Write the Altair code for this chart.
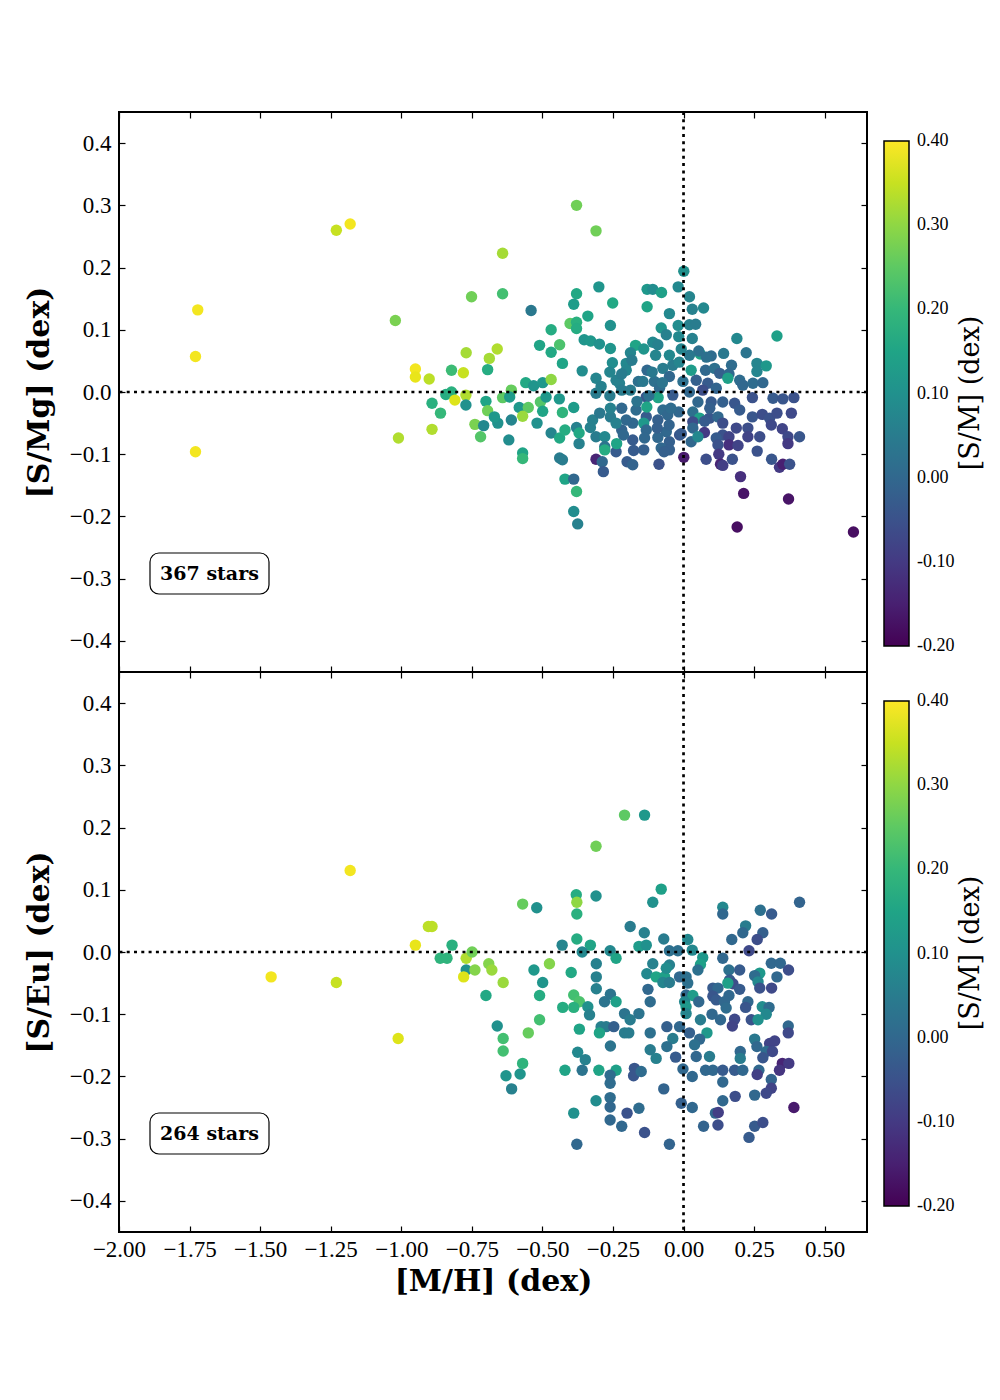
import altair as alt
import pandas as pd

# ---------------- panel 1: [S/Mg] vs [M/H], colour [S/M] ----------------
X_A = [-1.721, -1.729, -1.729, -1.230, -1.181, -1.021, -1.010, -0.751, -0.950, -0.950,
       -0.901, -0.891, -0.891, -0.861, -0.842, -0.822, -0.822, -0.810, -0.771, -0.780,
       -0.770, -0.771, -0.739, -0.719, -0.708, -0.700, -0.694, -0.694, -0.688]
Y_A = [0.132, 0.057, -0.096, 0.260, 0.270, 0.115, -0.074, 0.153, 0.037, 0.024,
       0.021, -0.060, -0.018, -0.034, -0.004, 0.000, 0.035, -0.013, -0.005, 0.031,
       0.063, -0.021, -0.052, -0.072, -0.054, -0.015, -0.030, 0.036, 0.054]
C_A = [0.39, 0.39, 0.39, 0.35, 0.39, 0.28, 0.33, 0.27, 0.39, 0.38,
       0.34, 0.33, 0.18, 0.20, 0.17, 0.18, 0.21, 0.37, 0.33, 0.35,
       0.32, 0.10, 0.28, 0.24, 0.08, 0.15, 0.27, 0.17, 0.32]

X_B = [-0.379, -0.310, -0.641, -0.641, -0.540, -0.300, -0.379, -0.389, -0.251, -0.129,
       -0.129, -0.402, -0.379, -0.379, -0.339, -0.259, -0.469, -0.510, -0.439, -0.469,
       -0.429, -0.352, -0.329, -0.298, -0.259, -0.170, -0.141, -0.188, -0.252, -0.203,
       -0.359, -0.660, -0.559, -0.531, -0.499, -0.469, -0.610, -0.641, -0.616, -0.658,
       -0.670, -0.610, -0.619, -0.582, -0.550, -0.570, -0.507, -0.499, -0.487, -0.519,
       -0.570, -0.570, -0.440, -0.429, -0.389, -0.469, -0.439, -0.420, -0.379, -0.370,
       -0.370, -0.439, -0.429, -0.420, -0.389, -0.379, -0.389, -0.375, -0.330, -0.310,
       -0.279, -0.279, -0.279, -0.310, -0.288, -0.284, -0.239, -0.200, -0.180, -0.180,
       -0.141, -0.310, -0.310, -0.292, -0.259, -0.259, -0.219, -0.219, -0.239, -0.227,
       -0.219, -0.188, -0.203, -0.160, -0.168, -0.180, -0.132, -0.132, -0.129, -0.141,
       -0.203, -0.239, -0.322]
Y_B = [0.300, 0.259, 0.223, 0.158, 0.131, 0.169, 0.158, 0.141, 0.143, 0.165,
       0.137, 0.110, 0.112, 0.102, 0.122, 0.107, 0.100, 0.075, 0.076, 0.064,
       0.046, 0.084, 0.082, 0.077, 0.070, 0.075, 0.069, 0.063, 0.047, 0.046,
       0.034, 0.069, 0.015, 0.010, 0.015, 0.020, 0.003, -0.009, -0.008, -0.050,
       -0.040, -0.045, -0.077, -0.025, -0.025, -0.039, -0.016, -0.031, -0.008, -0.050,
       -0.098, -0.107, -0.011, -0.033, -0.025, -0.066, -0.074, -0.061, -0.057, -0.066,
       -0.083, -0.106, -0.109, -0.140, -0.140, -0.160, -0.192, -0.212, -0.057, -0.072,
       -0.072, -0.088, -0.093, -0.108, -0.112, -0.128, -0.096, -0.112, -0.117, -0.077,
       -0.093, 0.022, -0.002, 0.009, -0.040, -0.026, -0.026, -0.061, 0.019, 0.014,
       0.003, 0.003, 0.035, 0.017, -0.029, -0.050, -0.008, -0.040, 0.035, -0.050,
       -0.045, -0.050, -0.045]
C_B = [0.27, 0.27, 0.32, 0.22, 0.04, 0.11, 0.16, 0.13, 0.16, 0.12,
       0.15, 0.25, 0.18, 0.17, 0.15, 0.10, 0.17, 0.15, 0.23, 0.16,
       0.15, 0.11, 0.12, 0.10, 0.11, 0.15, 0.11, 0.07, 0.09, 0.08,
       0.09, 0.33, 0.16, 0.11, 0.12, 0.30, 0.26, 0.25, 0.13, 0.10,
       0.12, 0.07, 0.09, 0.12, 0.25, 0.31, 0.24, 0.15, 0.12, 0.10,
       0.15, 0.20, 0.12, 0.19, 0.13, 0.07, 0.16, 0.17, 0.06, 0.16,
       0.06, 0.05, 0.05, 0.15, 0.00, 0.20, 0.09, 0.06, 0.06, 0.05,
       0.08, 0.03, 0.17, -0.14, 0.00, -0.03, -0.03, -0.03, -0.01, -0.03,
       -0.02, 0.07, 0.05, 0.06, 0.05, 0.06, 0.00, -0.01, 0.06, 0.06,
       0.05, 0.05, 0.07, 0.02, 0.01, 0.00, -0.04, -0.03, 0.00, 0.12,
       0.00, 0.06, 0.06]

X_C = [0.001, -0.109, -0.078, -0.019, 0.021, 0.031, 0.071, -0.050, -0.079, -0.019,
       0.021, 0.043, -0.061, -0.017, 0.031, 0.189, 0.331, -0.109, -0.091, -0.099,
       -0.050, -0.008, 0.059, 0.098, 0.142, 0.222, 0.054, 0.021, 0.170, 0.260,
       0.293, 0.260, -0.073, -0.038, 0.027, 0.078, 0.110, 0.128, 0.161, 0.157,
       0.199, 0.210, 0.246, 0.281, -0.144, -0.103, -0.050, -0.002, 0.045, 0.086,
       0.116, -0.085, -0.038, 0.021, 0.068, -0.090, -0.130, -0.073, -0.017, 0.051,
       0.098, 0.139, 0.181, 0.199, 0.244, 0.317, 0.352, 0.391, 0.033, 0.057,
       0.092, 0.122, 0.139, 0.244, 0.279, 0.305, 0.331, 0.382, -0.091, -0.056,
       0.033, 0.033, 0.187, 0.228, 0.311, 0.350, -0.132, -0.061, -0.014, 0.074,
       0.139, 0.161, 0.228, 0.270, 0.370, 0.411, -0.138, -0.091, -0.050, 0.027,
       0.051, 0.116, 0.161, 0.122, 0.193, -0.079, -0.050, -0.008, 0.261, 0.370,
       -0.087, 0.001, 0.080, 0.125, 0.131, 0.139, 0.173, 0.312, 0.340, 0.352,
       0.376, 0.202, 0.213, 0.372, 0.190, 0.602]
Y_C = [0.194, 0.165, 0.160, 0.169, 0.153, 0.133, 0.135, 0.126, 0.103, 0.107,
       0.108, 0.109, 0.092, 0.089, 0.086, 0.086, 0.090, 0.080, 0.076, 0.059,
       0.059, 0.069, 0.061, 0.058, 0.062, 0.063, 0.066, 0.059, 0.043, 0.046,
       0.042, 0.033, 0.038, 0.043, 0.035, 0.035, 0.038, 0.030, 0.029, 0.022,
       0.019, 0.011, 0.014, 0.015, 0.017, 0.017, 0.025, 0.017, 0.019, 0.014,
       0.006, 0.006, -0.005, 0.000, 0.003, -0.009, -0.024, -0.029, -0.032, -0.016,
       -0.016, -0.016, -0.018, -0.029, -0.009, -0.010, -0.011, -0.009, -0.032, -0.042,
       -0.042, -0.040, -0.050, -0.040, -0.036, -0.042, -0.034, -0.034, -0.045, -0.037,
       -0.048, -0.058, -0.058, -0.058, -0.053, -0.059, -0.061, -0.064, -0.069, -0.065,
       -0.069, -0.072, -0.072, -0.072, -0.072, -0.072, -0.074, -0.073, -0.080, -0.080,
       -0.072, -0.074, -0.085, -0.085, -0.086, -0.090, -0.093, -0.067, -0.095, -0.083,
       -0.116, -0.105, -0.108, -0.100, -0.116, -0.118, -0.108, -0.108, -0.121, -0.116,
       -0.116, -0.136, -0.163, -0.172, -0.217, -0.225]
C_C = [0.10, 0.09, 0.14, 0.08, 0.07, 0.06, 0.08, 0.08, 0.11, 0.09,
       0.06, 0.05, 0.06, 0.08, 0.06, 0.08, 0.14, 0.08, 0.06, 0.07,
       0.08, 0.07, 0.15, 0.01, 0.04, 0.03, 0.02, 0.04, 0.01, 0.07,
       0.12, 0.07, 0.05, 0.05, 0.13, 0.00, 0.02, -0.02, 0.00, 0.14,
       0.01, 0.00, 0.01, 0.00, 0.04, 0.02, 0.00, 0.02, -0.02, -0.03,
       -0.01, 0.01, -0.03, 0.00, -0.06, 0.15, 0.15, 0.01, 0.00, 0.00,
       -0.03, -0.02, -0.04, -0.03, -0.05, -0.03, -0.04, -0.05, 0.02, 0.14,
       -0.04, 0.00, -0.06, -0.04, -0.06, -0.05, -0.06, -0.07, -0.02, 0.00,
       -0.06, 0.00, -0.07, -0.06, -0.07, -0.08, 0.00, 0.00, -0.04, -0.10,
       -0.05, -0.08, -0.08, -0.06, -0.07, -0.04, 0.00, 0.00, -0.02, 0.00,
       0.08, -0.03, -0.12, -0.05, -0.08, 0.00, -0.02, -0.03, -0.05, -0.10,
       -0.05, -0.16, -0.06, -0.10, -0.14, -0.09, -0.05, -0.04, -0.10, -0.15,
       -0.05, -0.12, -0.17, -0.17, -0.18, -0.18]

X_G = [-0.183, -0.015, 0.081, -0.261, -0.219, -0.111, -0.075, -0.123, -0.165, -0.261,
       -0.297, -0.045, 0.093, -0.093, -0.051, 0.075, -0.237, -0.213, -0.177, -0.069]
Y_G = [0.051, 0.048, 0.056, 0.032, 0.029, 0.032, 0.015, -0.006, -0.015, -0.006,
       -0.034, -0.026, -0.026, -0.058, -0.053, -0.047, -0.083, -0.069, -0.094, -0.096]
C_G = [0.05, 0.07, 0.02, 0.07, 0.05, 0.04, 0.03, 0.02, 0.03, 0.05,
       0.04, 0.01, -0.02, -0.02, -0.01, -0.03, 0.15, 0.00, -0.03, -0.02]

# ---------------- panel 2: [S/Eu] vs [M/H], colour [S/M] ----------------
X_D = [-1.181, -1.461, -1.230, -1.011, -0.950, -0.904, -0.891, -0.820, -0.862, -0.838,
       -0.770, -0.749, -0.770, -0.779, -0.739, -0.690, -0.679, -0.639, -0.700, -0.660,
       -0.639, -0.639, -0.629, -0.609, -0.579, -0.570, -0.550, -0.510, -0.510, -0.499,
       -0.530, -0.570, -0.520, -0.475]
Y_D = [0.131, -0.040, -0.049, -0.139, 0.011, 0.041, 0.041, 0.011, -0.010, -0.010,
       -0.010, 0.000, -0.029, -0.040, -0.029, -0.019, -0.029, -0.049, -0.070, -0.119,
       -0.139, -0.159, -0.199, -0.220, -0.196, -0.179, -0.130, -0.109, -0.070, -0.049,
       -0.029, 0.077, 0.071, -0.019]
C_D = [0.39, 0.39, 0.35, 0.37, 0.38, 0.34, 0.34, 0.18, 0.19, 0.19,
       0.33, 0.27, 0.10, 0.37, 0.29, 0.29, 0.31, 0.31, 0.16, 0.10,
       0.22, 0.22, 0.11, 0.06, 0.11, 0.19, 0.26, 0.22, 0.17, 0.11,
       0.12, 0.26, 0.10, 0.29]

X_E = [-0.209, -0.138, -0.310, -0.380, -0.378, -0.378, -0.310, -0.079, -0.109, -0.189,
       -0.139, -0.070, -0.378, -0.330, -0.430, -0.359, -0.260, -0.239, -0.158, -0.132,
       -0.050, -0.020, 0.015, -0.398, -0.309, -0.309, -0.309, -0.109, -0.130, -0.097,
       -0.067, -0.050, -0.073, -0.050, -0.014, -0.126, -0.118, -0.389, -0.369, -0.428,
       -0.389, -0.339, -0.333, -0.280, -0.259, -0.239, -0.209, -0.189, -0.158, -0.369,
       -0.292, -0.274, -0.247, -0.209, -0.194, -0.298, -0.259, -0.118, -0.059, -0.038,
       -0.014, -0.118, -0.097, -0.059, -0.028, -0.375, -0.348, -0.420, -0.359, -0.300,
       -0.239, -0.260, -0.260, -0.174, -0.177, -0.150, -0.002, -0.070, -0.310, -0.260,
       -0.260, -0.200, -0.158, -0.389, -0.260, -0.219, -0.138, -0.378, -0.050, -0.008]
Y_E = [0.220, 0.220, 0.170, 0.092, 0.080, 0.061, 0.090, 0.101, 0.080, 0.041,
       0.031, 0.021, 0.021, 0.011, 0.011, 0.000, 0.002, -0.010, 0.009, 0.011,
       0.002, 0.002, 0.020, -0.033, -0.019, -0.040, -0.059, -0.019, -0.035, -0.040,
       -0.040, -0.021, -0.049, -0.049, -0.040, -0.060, -0.080, -0.069, -0.080, -0.089,
       -0.089, -0.088, -0.101, -0.080, -0.068, -0.080, -0.099, -0.109, -0.099, -0.124,
       -0.120, -0.120, -0.120, -0.130, -0.130, -0.130, -0.151, -0.130, -0.120, -0.139,
       -0.120, -0.157, -0.171, -0.152, -0.169, -0.161, -0.173, -0.190, -0.190, -0.190,
       -0.190, -0.198, -0.211, -0.187, -0.199, -0.192, -0.188, -0.220, -0.239, -0.234,
       -0.249, -0.259, -0.251, -0.259, -0.270, -0.280, -0.290, -0.309, -0.309, -0.243]
C_E = [0.25, 0.12, 0.27, 0.17, 0.30, 0.18, 0.10, 0.14, 0.10, 0.05,
       0.06, 0.05, 0.17, 0.15, 0.07, 0.08, 0.08, 0.15, 0.13, 0.10,
       0.02, 0.02, 0.08, 0.16, 0.06, 0.06, 0.06, 0.06, 0.08, 0.15,
       0.14, 0.06, 0.07, 0.05, 0.00, 0.00, 0.01, 0.22, 0.23, 0.17,
       0.18, 0.10, 0.06, 0.03, 0.03, 0.14, 0.03, 0.05, 0.03, 0.15,
       0.06, 0.05, -0.02, 0.05, 0.05, 0.15, 0.03, 0.02, -0.02, 0.05,
       0.00, 0.05, 0.06, 0.02, -0.03, 0.08, 0.06, 0.15, 0.03, 0.15,
       0.14, 0.01, 0.01, -0.04, -0.04, 0.01, 0.00, -0.01, 0.09, 0.01,
       0.00, -0.05, 0.01, 0.10, 0.00, 0.00, -0.05, 0.00, -0.01, -0.02]

X_F = [0.411, 0.139, 0.139, 0.272, 0.312, 0.220, 0.210, 0.281, 0.261, 0.171,
       0.031, 0.232, 0.068, 0.060, 0.139, -0.061, 0.051, 0.311, 0.343, 0.372,
       0.161, 0.199, 0.270, 0.252, 0.331, 0.009, 0.163, 0.175, 0.157, 0.264,
       0.015, 0.199, 0.270, 0.312, 0.104, 0.122, 0.009, 0.033, 0.161, 0.104,
       0.116, 0.145, 0.054, 0.004, 0.228, 0.009, 0.151, 0.220, 0.279, 0.303,
       0.293, 0.009, 0.101, 0.131, 0.181, 0.173, 0.240, 0.264, 0.060, 0.021,
       0.083, 0.371, 0.371, 0.057, 0.039, 0.252, 0.260, 0.305, 0.323, 0.293,
       0.281, 0.315, 0.201, 0.201, 0.350, 0.373, 0.340, 0.045, 0.092, 0.078,
       0.104, 0.139, 0.181, 0.210, 0.267, 0.261, 0.031, 0.311, 0.311, 0.293,
       0.139, 0.139, 0.183, 0.252, 0.391, 0.031, 0.113, 0.123, 0.122, 0.071,
       0.252, 0.281, 0.232]
Y_F = [0.080, 0.072, 0.061, 0.067, 0.061, 0.042, 0.031, 0.031, 0.020, 0.020,
       0.003, 0.002, -0.009, -0.020, -0.010, -0.026, -0.029, -0.018, -0.018, -0.029,
       -0.029, -0.029, -0.034, -0.038, -0.040, -0.040, -0.045, -0.051, -0.050, -0.048,
       -0.050, -0.060, -0.058, -0.058, -0.058, -0.058, -0.069, -0.070, -0.070, -0.071,
       -0.077, -0.080, -0.080, -0.080, -0.080, -0.088, -0.090, -0.089, -0.088, -0.089,
       -0.100, -0.099, -0.100, -0.109, -0.108, -0.119, -0.109, -0.109, -0.109, -0.130,
       -0.130, -0.119, -0.130, -0.140, -0.149, -0.140, -0.152, -0.147, -0.143, -0.160,
       -0.170, -0.160, -0.160, -0.171, -0.179, -0.179, -0.190, -0.168, -0.168, -0.190,
       -0.190, -0.190, -0.190, -0.190, -0.190, -0.197, -0.200, -0.205, -0.219, -0.227,
       -0.209, -0.239, -0.232, -0.230, -0.250, -0.250, -0.259, -0.258, -0.278, -0.280,
       -0.280, -0.274, -0.298]
C_F = [-0.01, 0.08, 0.00, 0.02, -0.03, 0.05, 0.00, -0.02, -0.06, 0.00,
       0.08, -0.07, 0.12, 0.14, 0.00, 0.09, 0.02, 0.00, 0.00, -0.06,
       0.02, -0.03, 0.12, 0.01, 0.00, 0.02, -0.03, -0.06, 0.14, 0.08,
       0.02, -0.03, -0.05, -0.07, -0.03, 0.00, 0.00, 0.13, 0.00, -0.04,
       -0.03, 0.00, 0.00, 0.08, 0.00, 0.12, 0.01, -0.04, 0.09, 0.01,
       0.08, 0.07, 0.00, 0.00, -0.07, -0.08, -0.05, 0.10, 0.05, -0.02,
       0.12, 0.00, -0.07, 0.00, 0.02, 0.04, 0.00, -0.08, -0.08, 0.01,
       -0.04, -0.07, 0.00, 0.05, -0.14, -0.10, -0.11, 0.00, 0.05, 0.00,
       0.00, -0.03, -0.03, 0.00, 0.00, -0.09, 0.00, -0.01, -0.08, -0.07,
       0.00, 0.00, -0.06, 0.00, -0.16, 0.00, 0.00, -0.09, -0.06, -0.01,
       -0.03, -0.06, -0.03]

# ---------------- axes / labels ----------------
X_TICKS = [-2.0, -1.75, -1.5, -1.25, -1.0, -0.75, -0.5, -0.25, 0.0, 0.25, 0.5]
Y_TICKS = [-0.4, -0.3, -0.2, -0.1, 0.0, 0.1, 0.2, 0.3, 0.4]
CBAR_TICKS = [-0.2, -0.1, 0.0, 0.1, 0.2, 0.3, 0.4]
X_DOMAIN = [-2.0, 0.65]
Y_DOMAIN = [-0.45, 0.45]
C_DOMAIN = [-0.2, 0.4]
PANEL_TITLES = ["[S/Mg] (dex)", "[S/Eu] (dex)"]
STAR_LABELS = ["367 stars", "264 stars"]
X_TITLE = "[M/H] (dex)"
CBAR_TITLE = "[S/M] (dex)"

W, H = 748, 560
TICK = 6
TICK_FONT = "Liberation Serif"
TITLE_FONT = "DejaVu Serif"

for a, b, c in [(X_A, Y_A, C_A), (X_B, Y_B, C_B), (X_C, Y_C, C_C), (X_G, Y_G, C_G),
                (X_D, Y_D, C_D), (X_E, Y_E, C_E), (X_F, Y_F, C_F)]:
    assert len(a) == len(b) == len(c), (len(a), len(b), len(c))

df_top = pd.DataFrame({"mh": X_A + X_B + X_C + X_G,
                       "val": Y_A + Y_B + Y_C + Y_G,
                       "sm": C_A + C_B + C_C + C_G})
df_bot = pd.DataFrame({"mh": X_D + X_E + X_F, "val": Y_D + Y_E + Y_F, "sm": C_D + C_E + C_F})

# colorbar tick values, end ones nudged inside so Vega centres their labels on the ends
_eps = 1e-4
CBAR_VALUES = [CBAR_TICKS[0] + _eps] + CBAR_TICKS[1:-1] + [CBAR_TICKS[-1] - _eps]


def tick_axis(**kw):
    base = dict(tickSize=TICK, offset=-TICK, domain=False, grid=False,
                tickColor="black", tickWidth=1.2)
    base.update(kw)
    return alt.Axis(**base)


def panel(df, ytitle, nstars, show_x):
    xs = alt.Scale(domain=X_DOMAIN, nice=False, zero=False)
    ys = alt.Scale(domain=Y_DOMAIN, nice=False, zero=False)
    if show_x:
        xaxis = tick_axis(orient="bottom", values=X_TICKS, format=".2f",
                          labelFont=TICK_FONT, labelFontSize=23, labelColor="black",
                          labelPadding=6, labelFlush=False, labelOverlap=False,
                          title=X_TITLE, titleFont=TITLE_FONT, titleFontSize=30,
                          titleFontWeight="bold", titleColor="black", titlePadding=5)
    else:
        xaxis = tick_axis(orient="bottom", values=X_TICKS, labels=False, title=None)
    yaxis = tick_axis(orient="left", values=Y_TICKS, format=".1f",
                      labelFont=TICK_FONT, labelFontSize=23, labelColor="black",
                      labelPadding=8, labelFlush=False, labelOverlap=False,
                      title=ytitle, titleFont=TITLE_FONT, titleFontSize=30,
                      titleFontWeight="bold", titleColor="black",
                      titleX=-(80 + TICK), titleY=H / 2, titleAngle=270,
                      titleBaseline="middle", titleAlign="center")
    legend = alt.Legend(orient="none", legendX=W + 17, legendY=29, direction="vertical",
                        gradientLength=505, gradientThickness=25,
                        gradientStrokeColor="black", gradientStrokeWidth=1.5,
                        values=CBAR_VALUES,
                        labelExpr="(datum.value < 0 ? '-' : '') + format(abs(datum.value), '.2f')",
                        labelFont=TICK_FONT, labelFontSize=18, labelColor="black",
                        labelOffset=8, labelOverlap=False, title="")

    pts = alt.Chart(df).mark_circle(size=130, opacity=1).encode(
        x=alt.X("mh:Q", scale=xs, axis=xaxis),
        y=alt.Y("val:Q", scale=ys, axis=yaxis),
        color=alt.Color("sm:Q", scale=alt.Scale(scheme="viridis", domain=C_DOMAIN, clamp=True),
                        legend=legend),
    )

    zero = pd.DataFrame({"z": [0.0]})
    vrule = alt.Chart(zero).mark_rule(color="black", strokeWidth=2.7, strokeDash=[3, 4.3]).encode(
        x=alt.X("z:Q", scale=xs, axis=tick_axis(orient="top", values=X_TICKS, labels=False, title=None))
    )
    hrule = alt.Chart(zero).mark_rule(color="black", strokeWidth=2.7, strokeDash=[3, 4.3]).encode(
        y=alt.Y("z:Q", scale=ys, axis=tick_axis(orient="right", values=Y_TICKS, labels=False, title=None))
    )

    lab = pd.DataFrame({"t": [nstars]})
    box = alt.Chart(lab).mark_rect(fill="white", stroke="black", strokeWidth=1.2,
                                   cornerRadius=9).encode(
        x=alt.value(31), x2=alt.value(150), y=alt.value(441), y2=alt.value(482))
    txt = alt.Chart(lab).mark_text(font=TITLE_FONT, fontWeight="bold", fontSize=19,
                                   color="black", baseline="middle").encode(
        x=alt.value(90.5), y=alt.value(462), text="t:N")

    cb = pd.DataFrame({"t": [CBAR_TITLE]})
    cbt = alt.Chart(cb).mark_text(font=TITLE_FONT, fontSize=27, color="black", angle=270,
                                  baseline="middle").encode(
        x=alt.value(852), y=alt.value(281), text="t:N")

    return alt.layer(pts, box, txt, vrule, hrule, cbt).resolve_axis(
        x="independent", y="independent").properties(width=W, height=H)


top = panel(df_top, PANEL_TITLES[0], STAR_LABELS[0], False)
bottom = panel(df_bot, PANEL_TITLES[1], STAR_LABELS[1], True)

chart = alt.vconcat(top, bottom, spacing=0, bounds="flush").resolve_scale(
    color="independent").properties(
    padding={"left": 15, "top": 101, "right": 2, "bottom": 2}
).configure_view(stroke="black", strokeWidth=2)

chart.save("out.html", embed_options={"renderer": "svg", "actions": False})
